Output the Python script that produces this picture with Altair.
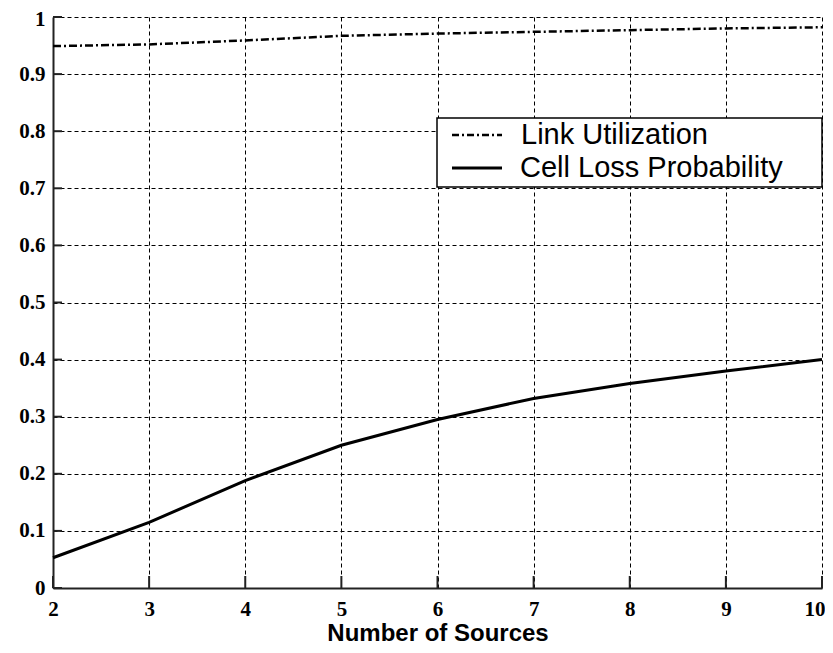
import altair as alt
import pandas as pd

sources = [2, 3, 4, 5, 6, 7, 8, 9, 10]
link_util = [0.949, 0.952, 0.959, 0.967, 0.971, 0.974, 0.977, 0.980, 0.982]
cell_loss = [0.053, 0.115, 0.188, 0.250, 0.295, 0.332, 0.358, 0.380, 0.400]
series_names = ["Link Utilization", "Cell Loss Probability"]
x_ticks = [2, 3, 4, 5, 6, 7, 8, 9, 10]
y_ticks = [0, 0.1, 0.2, 0.3, 0.4, 0.5, 0.6, 0.7, 0.8, 0.9, 1.0]

W, H = 769, 571

df = pd.DataFrame({"n": sources, "util": link_util, "loss": cell_loss})

xscale = alt.Scale(domain=[2, 10], nice=False)
yscale = alt.Scale(domain=[0, 1], nice=False)

xaxis = alt.Axis(values=x_ticks, format="d", title="Number of Sources", grid=True,
                 gridDash=[4, 3], gridColor="black", gridWidth=1, gridOpacity=1,
                 tickSize=0, labelPadding=10, labelFont="Liberation Serif",
                 labelFontWeight="bold", labelFontSize=21, labelColor="black",
                 labelAlign={"expr": "datum.value == 10 ? 'right' : 'center'"},
                 labelOffset={"expr": "datum.value == 10 ? 3 : 0"},
                 titleFont="Liberation Sans", titleFontWeight="bold",
                 titleFontSize=24, titleColor="black", titlePadding=2,
                 domainColor="#222", domainWidth=2, labelFlush=False)
yaxis = alt.Axis(values=y_ticks, title=None, grid=True,
                 gridDash=[4, 3], gridColor="black", gridWidth=1, gridOpacity=1,
                 tickSize=0, labelPadding=8, labelFont="Liberation Serif",
                 labelFontWeight="bold", labelFontSize=21, labelColor="black",
                 labelOffset={"expr": "datum.value == 1 ? 2 : 0"},
                 labelExpr="datum.value == 0 ? '0' : (datum.value == 1 ? '1' : format(datum.value, '.1f'))",
                 domainColor="#222", domainWidth=2, labelFlush=False)

base = alt.Chart(df)

util_line = base.mark_line(color="black", strokeWidth=2.5, strokeDash=[8, 3, 2, 3]).encode(
    x=alt.X("n:Q", scale=xscale, axis=xaxis),
    y=alt.Y("util:Q", scale=yscale, axis=yaxis),
)
loss_line = base.mark_line(color="black", strokeWidth=3).encode(
    x=alt.X("n:Q", scale=xscale),
    y=alt.Y("loss:Q", scale=yscale),
)

# inward ticks
xt = pd.DataFrame({"t": x_ticks})
yt = pd.DataFrame({"t": y_ticks})
xtick_marks = alt.Chart(xt).mark_rule(color="#222", strokeWidth=2).encode(
    x=alt.X("t:Q", scale=xscale), y=alt.value(H), y2=alt.value(H - 12))
ytick_marks = alt.Chart(yt).mark_rule(color="#222", strokeWidth=2).encode(
    y=alt.Y("t:Q", scale=yscale), x=alt.value(0), x2=alt.value(9))

# legend
one = pd.DataFrame({"a": [0]})
box = alt.Chart(one).mark_rect(fill="white", stroke="black", strokeWidth=1.5).encode(
    x=alt.value(384), x2=alt.value(769), y=alt.value(101), y2=alt.value(170))
s1 = alt.Chart(one).mark_rule(color="black", strokeWidth=2.5, strokeDash=[7, 3, 2, 3]).encode(
    x=alt.value(399), x2=alt.value(449), y=alt.value(118))
s2 = alt.Chart(one).mark_rule(color="black", strokeWidth=3).encode(
    x=alt.value(399), x2=alt.value(449), y=alt.value(151))
t1 = alt.Chart(pd.DataFrame({"label": [series_names[0]]})).mark_text(
    align="left", baseline="middle", font="Liberation Sans", fontSize=29, color="black").encode(
    text="label:N", x=alt.value(468), y=alt.value(118))
t2 = alt.Chart(pd.DataFrame({"label": [series_names[1]]})).mark_text(
    align="left", baseline="middle", font="Liberation Sans", fontSize=29, color="black").encode(
    text="label:N", x=alt.value(467), y=alt.value(151))

chart = alt.layer(util_line, loss_line, xtick_marks, ytick_marks, box, s1, s2, t1, t2).properties(
    width=W, height=H,
    autosize=alt.AutoSizeParams(type="none"),
    padding={"left": 45, "top": 9, "right": 3, "bottom": 57},
    background="white",
).configure_view(stroke=None)

chart.save("out.html", embed_options={"renderer": "svg", "actions": False})
